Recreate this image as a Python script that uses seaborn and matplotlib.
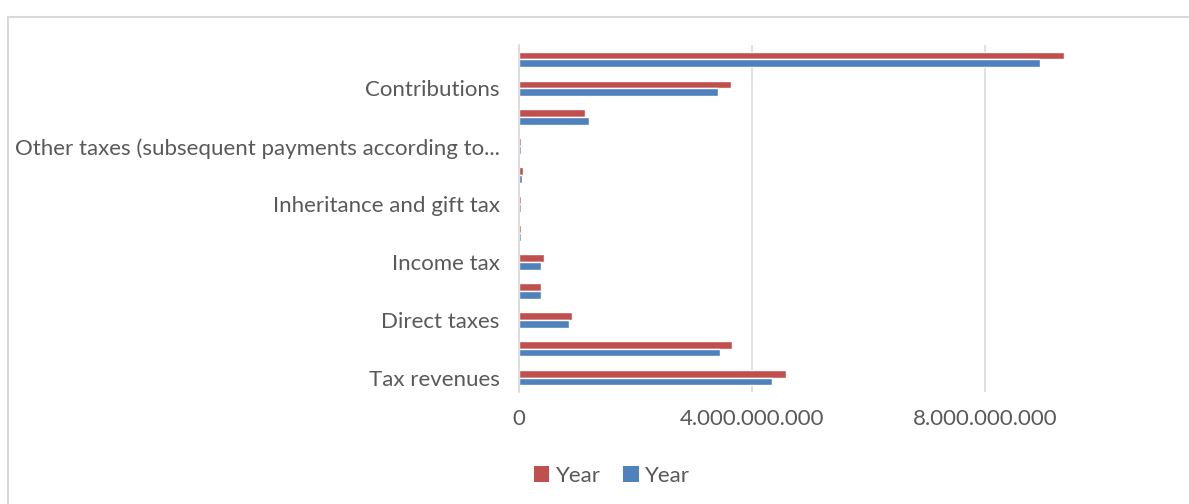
import matplotlib
matplotlib.use("Agg")
import matplotlib.pyplot as plt
from matplotlib.ticker import FuncFormatter, FixedLocator
from matplotlib.patches import Rectangle, Patch
import seaborn as sns
import pandas as pd

# Categories listed top to bottom
categories = [
    "Total revenues",
    "Contributions",
    "Other revenues",
    "Other taxes (subsequent payments according to...",
    "Motor vehicle tax",
    "Inheritance and gift tax",
    "Real estate transfer tax",
    "Income tax",
    "Corporate tax",
    "Direct taxes",
    "Indirect taxes",
    "Tax revenues",
]
# Only every other category name is printed on the axis
shown_labels = {
    "Contributions",
    "Other taxes (subsequent payments according to...",
    "Inheritance and gift tax",
    "Income tax",
    "Direct taxes",
    "Tax revenues",
}
series_names = ["Year A", "Year B"]
legend_labels = ["Year", "Year"]
values_a = [9.36e9, 3.64e9, 1.13e9, 0.03e9, 0.07e9, 0.03e9, 0.03e9, 0.43e9, 0.38e9, 0.91e9, 3.66e9, 4.58e9]
values_b = [8.94e9, 3.42e9, 1.20e9, 0.03e9, 0.05e9, 0.03e9, 0.03e9, 0.38e9, 0.38e9, 0.86e9, 3.45e9, 4.34e9]
x_ticks = [0, 4e9, 8e9]
colors = ["#C0504D", "#4F81BD"]

df = pd.DataFrame({
    "category": categories * 2,
    "value": values_a + values_b,
    "series": [series_names[0]] * len(categories) + [series_names[1]] * len(categories),
})

sns.set_theme(style="white")
plt.rcParams["font.family"] = ["Lato", "DejaVu Sans"]

fig = plt.figure(figsize=(11.89, 5.04), dpi=100)
W, H = 1189, 504
x0, x_right, y_top, y_bot = 519, 1218, 45, 392
ax = fig.add_axes([x0 / W, 1 - y_bot / H, (x_right - x0) / W, (y_bot - y_top) / H])

sns.barplot(data=df, y="category", x="value", hue="series", order=categories,
            hue_order=series_names, palette=colors, orient="h", width=0.54,
            saturation=1, ax=ax, legend=False)

ax.set_xlim(0, 12e9)
ax.xaxis.set_major_locator(FixedLocator(x_ticks))
ax.xaxis.set_major_formatter(FuncFormatter(lambda v, p: f"{int(round(v)):,}".replace(",", ".")))
ax.grid(axis="x", color="#D9D9D9", linewidth=1.2)
ax.set_axisbelow(True)
for s in ["top", "right", "bottom"]:
    ax.spines[s].set_visible(False)
ax.spines["left"].set_color("#D9D9D9")
ax.spines["left"].set_linewidth(1.2)
ax.set_xlabel("")
ax.set_ylabel("")
ax.tick_params(axis="both", length=0, labelsize=16, labelcolor="#595959")
ax.tick_params(axis="x", pad=12)
ax.tick_params(axis="y", pad=14)
ax.set_yticks(range(len(categories)))
ax.set_yticklabels([c if c in shown_labels else "" for c in categories])

# outer chart frame
fig.add_artist(Rectangle((8 / W, -0.1), 1.2, 1 - 17 / H + 0.1, transform=fig.transFigure,
                         fill=False, edgecolor="#D9D9D9", linewidth=1.5))

handles = [Patch(facecolor=c, edgecolor="none") for c in colors]
fig.legend(handles, legend_labels, loc="center", bbox_to_anchor=(612 / W, 1 - 476 / H),
           ncol=2, frameon=False, fontsize=16, labelcolor="#595959",
           handlelength=0.7, handleheight=0.7, handletextpad=0.3, columnspacing=1.0)

fig.savefig("out.png", dpi=100)
